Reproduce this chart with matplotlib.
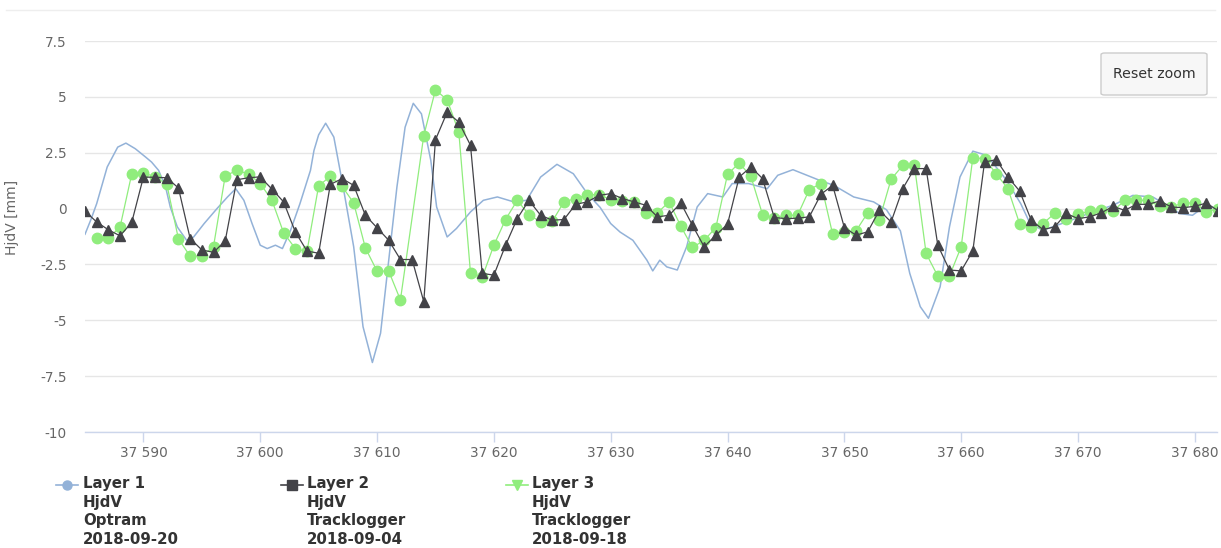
import numpy as np
import matplotlib
matplotlib.use('Agg')
import matplotlib.pyplot as plt
from matplotlib.lines import Line2D
from matplotlib.patches import FancyBboxPatch
from matplotlib.ticker import FuncFormatter, MultipleLocator

plt.rcParams['font.family'] = ['DejaVu Sans']

# Layer 1 - Optram (smooth line)
x_opt = [37585.0, 37585.5, 37586.0, 37586.9, 37587.8, 37588.5, 37589.3, 37590.2, 37590.7,
         37591.3, 37591.9, 37592.3, 37592.9, 37593.7, 37594.3, 37595.2, 37596.3, 37597.2,
         37597.9, 37598.6, 37599.3, 37600.0, 37600.6, 37601.3, 37601.9, 37602.6, 37603.4,
         37604.3, 37604.6, 37605.0, 37605.6, 37606.3, 37607.1, 37608.0, 37608.8, 37609.6,
         37610.3, 37611.0, 37611.7, 37612.4, 37613.1, 37613.8, 37614.6, 37615.1, 37616.0,
         37616.8, 37618.0, 37619.1, 37620.3, 37621.7, 37622.8, 37624.0, 37625.4, 37626.8,
         37628.0, 37629.1, 37630.0, 37630.8, 37631.9, 37633.1, 37633.6, 37634.2, 37634.8,
         37635.7, 37636.5, 37637.4, 37638.3, 37639.6, 37640.4, 37641.8, 37643.4, 37644.3,
         37645.6, 37646.8, 37647.9, 37649.1, 37650.8, 37652.5, 37653.6, 37654.8, 37655.6,
         37656.5, 37657.2, 37658.2, 37659.0, 37659.9, 37661.0, 37662.2, 37663.9, 37665.1,
         37665.9, 37667.0, 37669.0, 37671.3, 37673.0, 37674.7, 37676.4, 37677.6, 37678.7,
         37679.8, 37681.0, 37682.0]
y_opt = [-1.15, -0.5, 0.22, 1.86, 2.75, 2.93, 2.68, 2.3, 2.08,
         1.71, 0.96, 0.07, -0.82, -1.42, -1.27, -0.67, 0.0, 0.52,
         0.89, 0.37, -0.67, -1.64, -1.79, -1.64, -1.79, -0.97, 0.22,
         1.71, 2.6, 3.3, 3.82, 3.2, 0.96, -1.71, -5.29, -6.89,
         -5.58, -2.31, 0.96, 3.64, 4.71, 4.24, 2.16, 0.07, -1.27,
         -0.89, -0.15, 0.37, 0.52, 0.3, 0.37, 1.41, 1.98, 1.56,
         0.67, 0.05, -0.67, -1.05, -1.42, -2.31, -2.79, -2.31, -2.61,
         -2.75, -1.71, 0.07, 0.67, 0.52, 1.12, 1.12, 0.89, 1.49,
         1.74, 1.49, 1.26, 1.04, 0.52, 0.3, -0.05, -1.0, -2.9,
         -4.39, -4.91, -3.5, -0.82, 1.41, 2.57, 2.38, 1.26, 0.22,
         -0.67, -0.97, -0.6, -0.15, 0.15, 0.59, 0.52, 0.15, -0.22,
         -0.3, 0.15, -0.05]

# Layer 2 - Tracklogger 2018-09-04
x_tl1 = list(range(37585, 37683))
y_tl1 = [-0.12, -0.6, -0.95, -1.22, -0.62, 1.41, 1.4, 1.38, 0.92, -1.34,
         -1.85, -1.96, -1.45, 1.29, 1.38, 1.42, 0.87, 0.3, -1.04, -1.9,
         -2.0, 1.08, 1.34, 1.04, -0.3, -0.86, -1.42, -2.28, -2.28, -4.17,
         3.08, 4.31, 3.87, 2.83, -2.9, -2.98, -1.64, -0.45, 0.37, -0.3,
         -0.52, -0.49, 0.19, 0.3, 0.59, 0.67, 0.45, 0.3, 0.15, -0.37,
         -0.3, 0.25, -0.75, -1.71, -1.19, -0.7, 1.41, 1.86, 1.34, -0.4,
         -0.45, -0.43, -0.37, 0.64, 1.04, -0.85, -1.19, -1.04, -0.08, -0.6,
         0.89, 1.79, 1.79, -1.64, -2.75, -2.79, -1.89, 2.08, 2.19, 1.41,
         0.79, -0.52, -0.94, -0.82, -0.22, -0.45, -0.37, -0.19, 0.1, -0.08,
         0.19, 0.19, 0.34, 0.07, 0.04, 0.1, 0.25, -0.1]

# Layer 3 - Tracklogger 2018-09-18 (no point at 37613)
x_tl2 = list(range(37586, 37613)) + list(range(37614, 37683))
y_tl2 = [-1.32, -1.32, -0.83, 1.55, 1.6, 1.42, 1.09, -1.36, -2.13, -2.13,
         -1.7, 1.46, 1.71, 1.55, 1.12, 0.37, -1.08, -1.79, -1.92, 1.02,
         1.44, 1.0, 0.25, -1.76, -2.8, -2.8, -4.09,
         3.27, 5.31, 4.87, 3.42, -2.9, -3.08, -1.64, -0.49, 0.37, -0.27,
         -0.6, -0.57, 0.3, 0.45, 0.62, 0.62, 0.4, 0.33, 0.3, -0.19,
         -0.19, 0.3, -0.79, -1.74, -1.42, -0.85, 1.53, 2.04, 1.44, -0.27,
         -0.4, -0.3, -0.3, 0.85, 1.12, -1.15, -1.04, -1.0, -0.19, -0.5,
         1.31, 1.93, 1.93, -2.01, -3.02, -3.02, -1.71, 2.28, 2.23, 1.56,
         0.89, -0.67, -0.82, -0.67, -0.22, -0.45, -0.25, -0.12, -0.05, -0.12,
         0.37, 0.37, 0.37, 0.1, 0.07, 0.25, 0.25, -0.15, 0.0]

legend_labels = ['Layer 1\nHjdV\nOptram\n2018-09-20',
                 'Layer 2\nHjdV\nTracklogger\n2018-09-04',
                 'Layer 3\nHjdV\nTracklogger\n2018-09-18']

W, H = 1221, 548
fig = plt.figure(figsize=(W / 100, H / 100), dpi=100)
ax = fig.add_axes([85 / W, 1 - 432 / H, (1217 - 85) / W, (432 - 41) / H])

c_opt = '#93b2d8'
c_tl1 = '#434348'
c_tl2 = '#90ed7d'

ax.plot(x_opt, y_opt, color=c_opt, lw=1.1, zorder=2)
ax.plot(x_tl2, y_tl2, color=c_tl2, lw=0.9, marker='o', ms=7.5, mec=c_tl2, zorder=3)
ax.plot(x_tl1, y_tl1, color=c_tl1, lw=0.9, marker='^', ms=7, mec=c_tl1, zorder=4)

ax.set_xlim(37585.0, 37681.9)
ax.set_ylim(-10, 7.5)
ax.yaxis.set_major_locator(MultipleLocator(2.5))
ax.xaxis.set_major_locator(MultipleLocator(10))
ax.yaxis.set_major_formatter(FuncFormatter(lambda v, p: '%g' % v))
ax.xaxis.set_major_formatter(FuncFormatter(lambda v, p: '{:,}'.format(int(v)).replace(',', ' ')))

ax.grid(axis='y', color='#e6e6e6', lw=1)
ax.set_axisbelow(True)
for s in ['top', 'right', 'left']:
    ax.spines[s].set_visible(False)
ax.spines['bottom'].set_color('#ccd6eb')
ax.spines['bottom'].set_linewidth(1)
ax.tick_params(axis='y', length=0, pad=13, labelsize=9.8, labelcolor='#666666')
ax.tick_params(axis='x', length=7, width=1, color='#ccd6eb', pad=3,
               labelsize=9.8, labelcolor='#666666')

ax.set_ylabel('HjdV [mm]', fontsize=10, color='#666666')
ax.yaxis.set_label_coords(-0.058, 0.55)

# top border line of the chart container
fig.add_artist(Line2D([0.005, 0.995], [1 - 10 / H, 1 - 10 / H], color='#eeeeee', lw=1))

# reset zoom button
btn = FancyBboxPatch((1101 / W, 1 - 95 / H), 106 / W, 42 / H,
                     boxstyle='round,pad=0,rounding_size=0.003',
                     transform=fig.transFigure, facecolor='#f7f7f7',
                     edgecolor='#cccccc', lw=1, zorder=10)
fig.add_artist(btn)
fig.text(1154 / W, 1 - 74 / H, 'Reset zoom', ha='center', va='center',
         fontsize=10.2, color='#333333', zorder=11)

# legend
leg_x = [56, 281, 506]
text_x = [83, 307, 532]
colors = [c_opt, c_tl1, c_tl2]
markers = ['o', 's', 'v']
for i in range(3):
    y0 = 1 - 485 / H
    fig.add_artist(Line2D([leg_x[i] / W, (leg_x[i] + 22) / W], [y0, y0],
                          color=colors[i], lw=1.2))
    fig.add_artist(Line2D([(leg_x[i] + 11) / W], [y0], color=colors[i],
                          marker=markers[i], ms=6.5, mec=colors[i]))
    fig.text(text_x[i] / W, 1 - 476 / H, legend_labels[i], ha='left', va='top',
             fontsize=10.8, fontweight='bold', color='#333333', linespacing=1.3)

fig.savefig('out.png', dpi=100, facecolor='white')
